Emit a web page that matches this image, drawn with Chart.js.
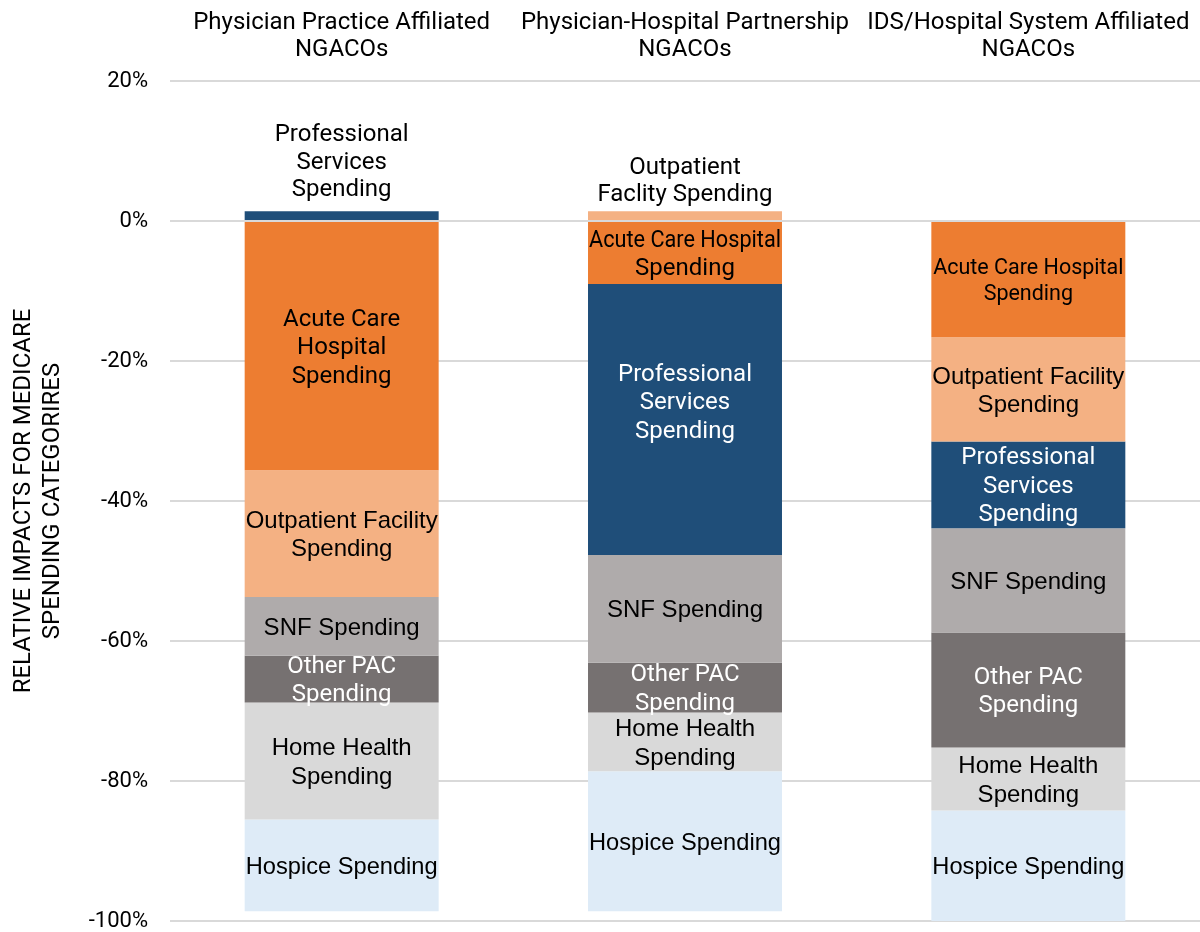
<!DOCTYPE html>
<html>
<head>
<meta charset="utf-8">
<script src="https://cdn.jsdelivr.net/npm/chart.js@4"></script>
<style>
  html, body { margin: 0; padding: 0; background: #fff; }
  #wrap { width: 1200px; height: 932px; }
</style>
</head>
<body>
<div id="wrap"><canvas id="chart" width="1200" height="932"></canvas></div>
<script>
// Groups of NGACOs (shown along the top)
const groups = [
  ['Physician Practice Affiliated', 'NGACOs'],
  ['Physician-Hospital Partnership', 'NGACOs'],
  ['IDS/Hospital System Affiliated', 'NGACOs']
];
const yTicks = [-100, -80, -60, -40, -20, 0, 20];

// relative impact (%) per group, one array per spending category
const acuteCare    = [-35.6, -9.0, -16.6];
const outpatient   = [-18.1, 1.4, -14.9];
const professional = [1.4, -38.7, -12.4];
const snf          = [-8.4, -15.4, -14.9];
const otherPac     = [-6.7, -7.1, -16.4];
const homeHealth   = [-16.7, -8.4, -9.0];
const hospice      = [-13.1, -20.0, -15.8];

// label text written on each segment, per group
const acuteText = [['Acute Care', 'Hospital', 'Spending'], ['Acute Care Hospital', 'Spending'], ['Acute Care Hospital', 'Spending']];
const outpatientText = [['Outpatient Facility', 'Spending'], ['Outpatient', 'Faclity Spending'], ['Outpatient Facility', 'Spending']];
const professionalText = [['Professional', 'Services', 'Spending'], ['Professional', 'Services', 'Spending'], ['Professional', 'Services', 'Spending']];
const snfText = [['SNF Spending'], ['SNF Spending'], ['SNF Spending']];
const otherPacText = [['Other PAC', 'Spending'], ['Other PAC', 'Spending'], ['Other PAC', 'Spending']];
const homeHealthText = [['Home Health', 'Spending'], ['Home Health', 'Spending'], ['Home Health', 'Spending']];
const hospiceText = [['Hospice Spending'], ['Hospice Spending'], ['Hospice Spending']];

function series(label, data, text, color, textColor, family) {
  return {
    label: label,
    data: data,
    segText: text,
    textColor: textColor,
    textFamily: family,
    backgroundColor: color,
    borderWidth: 0,
    barPercentage: 0.565,
    categoryPercentage: 1.0
  };
}

// draws the category names on (or above) every segment
const segmentLabels = {
  id: 'segmentLabels',
  afterDatasetsDraw(chart) {
    const ctx = chart.ctx;
    ctx.save();
    ctx.textAlign = 'center';
    ctx.textBaseline = 'middle';
    chart.data.datasets.forEach((ds, i) => {
      chart.getDatasetMeta(i).data.forEach((bar, j) => {
        const lines = ds.segText[j];
        const p = bar.getProps(['x', 'y', 'base', 'width'], true);
        const maxW = p.width - 2;
        if (ds.data[j] > 0) {
          // small positive slice: label sits above the bar
          ctx.font = '24px Roboto';
          ctx.fillStyle = '#000';
          const lh = 27.5;
          const last = Math.min(p.y, p.base) - 16 - (lines.length - 2) * 5;
          lines.forEach((t, k) => {
            ctx.fillText(t, p.x, last - (lines.length - 1 - k) * lh);
          });
        } else {
          const small = (i === 0 && j === 2);
          const size = small ? 21.5 : 24;
          const lh = small ? 26 : 28.5;
          ctx.font = size + 'px ' + ds.textFamily;
          ctx.fillStyle = ds.textColor;
          let mid = (p.y + p.base) / 2 + 2;
          if (i === 2 && j === 1) mid -= 18; // text box sits high in the tall segment
          const first = mid - (lines.length - 1) * lh / 2;
          lines.forEach((t, k) => {
            ctx.fillText(t, p.x, first + k * lh, maxW);
          });
        }
      });
    });
    ctx.restore();
  }
};

const datasets = [
  series('Acute Care Hospital Spending', acuteCare, acuteText, '#ED7D31', '#000', 'Roboto'),
  series('Outpatient Facility Spending', outpatient, outpatientText, '#F4B183', '#000', '"Liberation Sans"'),
  series('Professional Services Spending', professional, professionalText, '#1F4E79', '#fff', 'Roboto'),
  series('SNF Spending', snf, snfText, '#AFABAB', '#000', '"Liberation Sans"'),
  series('Other PAC Spending', otherPac, otherPacText, '#767171', '#fff', 'Roboto'),
  series('Home Health Spending', homeHealth, homeHealthText, '#D9D9D9', '#000', '"Liberation Sans"'),
  series('Hospice Spending', hospice, hospiceText, '#DEEBF7', '#000', '"Liberation Sans"')
];

new Chart(document.getElementById('chart'), {
  type: 'bar',
  data: { labels: groups, datasets: datasets },
  plugins: [segmentLabels],
  options: {
    responsive: false,
    animation: false,
    layout: { padding: { top: 0, right: 0, bottom: 11, left: 0 } },
    plugins: {
      legend: { display: false },
      tooltip: { enabled: false }
    },
    scales: {
      x: {
        position: 'top',
        stacked: true,
        grid: { display: false, drawTicks: false },
        border: { display: false },
        ticks: {
          color: '#000',
          font: { family: 'Roboto', size: 24, lineHeight: 1.125 },
          padding: 17.5,
          maxRotation: 0,
          autoSkip: false
        },
        afterFit: s => { s.height = 81; s.paddingLeft = 0; s.paddingRight = 0; }
      },
      y: {
        stacked: true,
        min: -100,
        max: 20,
        afterBuildTicks: s => { s.ticks = yTicks.map(v => ({ value: v })); },
        grid: { color: '#D9D9D9', lineWidth: 2, drawTicks: false },
        border: { display: false },
        ticks: {
          color: '#000',
          font: { family: 'Roboto', size: 22 },
          padding: 22,
          callback: v => v + '%'
        },
        title: {
          display: true,
          text: ['RELATIVE IMPACTS FOR MEDICARE', 'SPENDING CATEGORIRES'],
          color: '#000',
          font: { family: 'Roboto', size: 24, lineHeight: 1.21 },
          padding: { top: 9.5, bottom: 0 }
        },
        afterFit: s => { s.width = 170; s.paddingTop = 0; s.paddingBottom = 0; }
      }
    }
  }
});
</script>
</body>
</html>
